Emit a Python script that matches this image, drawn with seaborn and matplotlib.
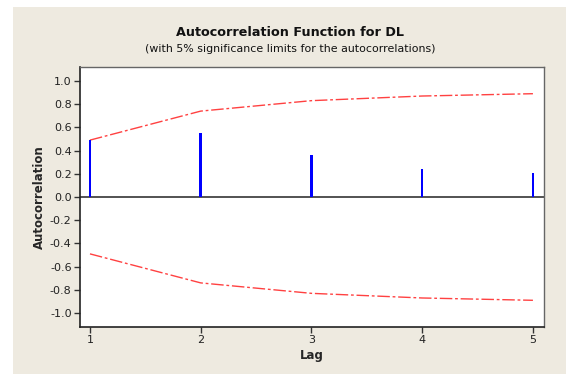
import matplotlib
matplotlib.use("Agg")
import matplotlib.pyplot as plt
import seaborn as sns
import pandas as pd
from matplotlib.patches import Rectangle

lags = [1, 2, 3, 4, 5]
acf = [0.49, 0.55, 0.36, 0.245, 0.21]
upper_limit = [0.49, 0.74, 0.83, 0.87, 0.89]
lower_limit = [-0.49, -0.74, -0.83, -0.87, -0.89]
yticks = [1.0, 0.8, 0.6, 0.4, 0.2, 0.0, -0.2, -0.4, -0.6, -0.8, -1.0]

sns.set_theme(style="white")
plt.rcParams['font.family'] = ['DejaVu Sans']

fig = plt.figure(figsize=(5.66, 3.74), dpi=100, facecolor="white")
bg = Rectangle((13/566, 0), 1, 1 - 7/374, transform=fig.transFigure,
               facecolor="#EEEAE0", edgecolor="none", zorder=-10)
fig.add_artist(bg)
ax = fig.add_axes([80/566, 1 - 327/374, 464/566, 260/374])
ax.set_zorder(1)
ax.set_facecolor("white")

df = pd.DataFrame({"Lag": lags, "ACF": acf, "Upper": upper_limit, "Lower": lower_limit})

ax.axhline(0, color="#444444", lw=1.3, zorder=1)
sns.barplot(data=df, x="Lag", y="ACF", native_scale=True, width=0.022,
            color="#0000FF", saturation=1, linewidth=0, ax=ax, zorder=3)
for col in ["Upper", "Lower"]:
    sns.lineplot(data=df, x="Lag", y=col, ax=ax, color="#FF2020", lw=1.0,
                 linestyle=(0, (9, 2, 2, 2)), alpha=0.85, zorder=2)

ax.set_xlim(0.91, 5.1)
ax.set_ylim(-1.12, 1.12)
ax.set_xticks(lags)
ax.set_xticklabels([str(l) for l in lags])
ax.set_yticks(yticks)
ax.set_yticklabels([f"{v:.1f}" for v in yticks])
ax.tick_params(axis="both", which="major", length=4, width=1, direction="out",
               color="#333333", labelsize=8, labelcolor="#222222", pad=2,
               left=True, bottom=True)

for s in ["left", "bottom"]:
    ax.spines[s].set_color("#222222")
    ax.spines[s].set_linewidth(1.2)
for s in ["top", "right"]:
    ax.spines[s].set_color("#666666")
    ax.spines[s].set_linewidth(1.0)

ax.set_xlabel("Lag", fontsize=8.5, fontweight="bold", labelpad=3)
ax.set_ylabel("Autocorrelation", fontsize=8.5, fontweight="bold", labelpad=3)

fig.text(290/566, 1 - 33/374, "Autocorrelation Function for DL", ha="center", va="center",
         fontsize=9.2, fontweight="bold", color="#111111")
fig.text(290/566, 1 - 48.5/374, "(with 5% significance limits for the autocorrelations)",
         ha="center", va="center", fontsize=7.9, color="#111111")

fig.savefig("out.png", dpi=100, facecolor=fig.get_facecolor())
